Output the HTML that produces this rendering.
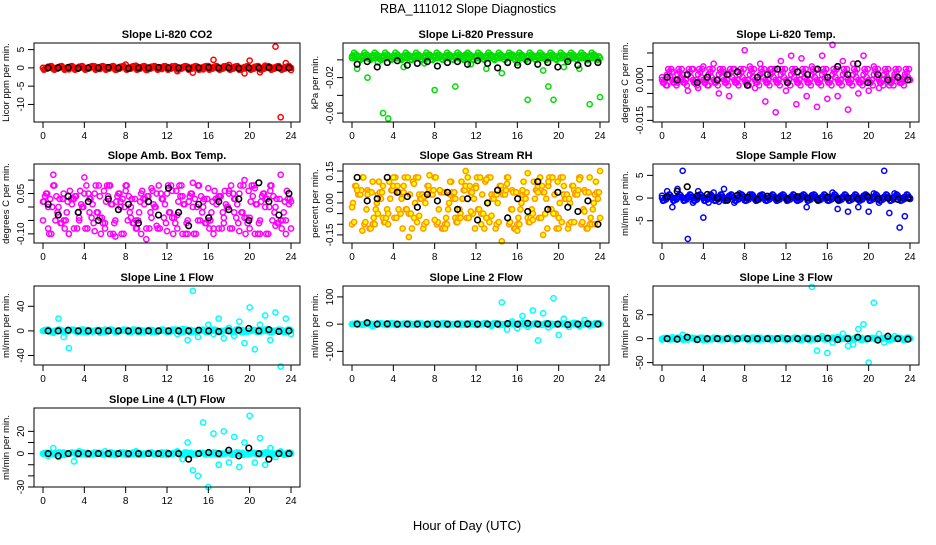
<!DOCTYPE html>
<html><head><meta charset="utf-8"><style>
body{margin:0;background:#fff}
svg{font-family:"Liberation Sans",sans-serif}
</style></head><body>
<svg id="c" width="936" height="540" xmlns="http://www.w3.org/2000/svg">
<text x="468" y="13" text-anchor="middle" font-size="12.5">RBA_111012  Slope Diagnostics</text>
<text x="467" y="530" text-anchor="middle" font-size="13">Hour of Day (UTC)</text>
</svg>
<script>
const xTicks=[0,4,8,12,16,20,24];
const titles=["Slope Li-820 CO2","Slope Li-820 Pressure","Slope Li-820 Temp.","Slope Amb. Box Temp.","Slope Gas Stream RH","Slope Sample Flow","Slope Line 1 Flow","Slope Line 2 Flow","Slope Line 3 Flow","Slope Line 4 (LT) Flow"];
const yLabels=["Licor ppm per min.","kPa per min.","degrees C per min.","degrees C per min.","percent per min.","ml/min per min.","ml/min per min.","ml/min per min.","ml/min per min.","ml/min per min."];
const yRanges=[[-14.8,6.8],[-0.070,0.019],[-0.0156,0.0137],[-0.134,0.16],[-0.188,0.183],[-9.9,7.5],[-55.5,73],[-150,140],[-55,110],[-30,41]];
const yTicks=[[5,0,-5,-10],[0,-0.02,-0.04,-0.06],[0.010,0.005,0.000,-0.005,-0.010,-0.015],[0.10,0.05,0,-0.05,-0.10],[0.15,0.10,0.05,0.00,-0.05,-0.10,-0.15],[5,0,-5],[40,0,-40],[100,0,-100],[50,0,-50],[20,10,0,-10,-20,-30]];
const yTickLabels=[["5","0","-5","-10"],["","-0.02","","-0.06"],["","","0.000","","","-0.015"],["","0.05","","","-0.10"],["0.15","","","0.00","","","-0.15"],["5","0","-5"],["40","0","-40"],["100","0","-100"],["50","0","-50"],["20","","0","","","-30"]];
const colors=["#ff0000","#00dd00","#ff00ff","#ff00ff","#ff9900","#0000ff","#00ffff","#00ffff","#00ffff","#00ffff"];
// dense band values (cycled across the day)
const bandA=[
[0,0.3,-0.3,0.2,-0.2,0.4,-0.4,0.1,-0.1,0.5,-0.5,0],
[0.002,0.005,0.008,0.003,0.006,0.001,0.009,0.004,0.007,0.0,0.005,0.003],
[0,0.001,-0.001,0.002,-0.002,0.003,-0.003,0.004,-0.004,0.001,-0.001,0],
[-0.05,0.03,-0.02,0.06,-0.08,0.01,0.05,-0.04,0.08,-0.06,0.02,-0.1,0.04,0],
[-0.1,0.05,-0.03,0.1,-0.07,0.02,0.08,-0.05,0.12,-0.12,0,0.04,-0.09,0.06],
[0,0.5,-0.5,0.3,-0.3,0.8,-0.8,0.2,-0.2,0.6,-0.6,0],
[0,1,-1,2,-2,0,1.5,-1.5,0.5,-0.5],
[0,2,-2,3,-3,0,1,-1,2,-1],
[0,1,-1,2,-2,0,1.5,-1.5,0.5,-0.5],
[0,0.5,-0.5,1,-1,0,0.7,-0.7,0.3,-0.3]
];
// scattered colored samples (index spans 0..24 h)
const colA=[
[0,0.3,-0.3,0.2,0,-0.4,0.1,0.3,-0.2,0,0.4,-0.3,0.2,0.1,-0.5,0.3,0.9,-0.2,0.6,0,-0.6,0.3,0.1,-0.3,0.2,0.4,-0.9,0,0.3,-1.3,0.2,-0.4,0.5,2.2,-0.3,0.4,0.8,0.2,-0.5,-1.5,2,0.3,-1.2,0.6,0.2,5.8,-13.5,1.3,-0.6],
[0.004,-0.01,0.003,-0.02,0.005,-0.003,-0.06,-0.066,0.004,0.002,-0.008,0.005,0.003,0.004,-0.004,0.006,-0.034,0.004,0.003,0.005,-0.03,0.002,0.006,-0.005,0.004,0.003,-0.01,0.005,0.002,-0.015,0.004,0.006,-0.003,0.005,-0.045,0.003,0.005,-0.012,-0.03,-0.045,0.004,-0.008,0.005,0.003,-0.01,0.004,-0.05,0.005,-0.042],
[0.001,-0.002,0.003,-0.001,0.002,-0.004,0.004,-0.003,0.005,-0.002,0.006,-0.005,0.003,-0.006,0.004,0.002,0.011,0.005,-0.003,0.006,-0.008,0.004,-0.012,0.007,-0.004,0.009,-0.009,0.008,-0.006,0.005,-0.01,0.009,-0.007,0.013,-0.006,0.007,-0.011,0.006,-0.005,0.009,-0.004,0.005,-0.003,0.002,-0.002,0.001,-0.001,0.001,0],
[0.02,-0.08,0.12,-0.03,0.05,-0.1,0.03,-0.05,0.11,-0.02,-0.09,0.04,-0.06,0.08,-0.11,0.02,0.06,-0.04,-0.08,0.05,-0.12,0.07,-0.07,0.03,-0.09,0.06,-0.03,0.04,-0.1,0.09,-0.05,0.02,0.07,-0.08,0.04,-0.06,0.06,-0.02,-0.09,0.1,-0.04,0.07,-0.1,0.03,0.06,-0.07,0.12,-0.05,0.02],
[-0.02,0.06,-0.13,0.04,0.1,-0.05,0.08,-0.1,0.12,-0.03,0.05,-0.16,0.09,-0.06,0.03,0.13,-0.08,0.06,-0.12,0.1,0.02,-0.07,0.15,-0.04,0.07,-0.1,0.11,-0.06,0.04,-0.18,0.09,-0.03,-0.13,0.06,0.14,-0.08,0.05,-0.15,0.1,-0.05,-0.12,0.08,0.02,-0.09,0.11,-0.04,0.12,-0.1,0.15],
[0.5,1.5,-2,2,6,-9,-1,1.5,-4.3,-1,1.2,-0.8,2,0.5,-1,1,-0.5,0.8,-0.3,0.6,-0.5,0.4,-0.3,0.5,-0.2,0.3,-0.4,0.5,-2,0.6,-0.3,0.2,-0.5,1.2,-2.4,0.3,-3,0.2,-2,0.5,-3,1,-1,6,-3.3,1,-6.5,-4,-0.2],
[0,2,-3,20,-10,-28,1,0,-2,1,0,-3,2,0,-1,1,0,-2,0,1,0,-2,0,1,0,2,-5,3,-15,65,-10,2,10,-5,20,-12,5,-8,15,-20,38,-30,10,25,-15,30,-58,20,-5],
[0,2,-2,5,-8,3,0,-3,1,0,2,-1,0,1,-2,0,1,0,-2,1,0,-3,2,0,1,-1,4,-6,2,80,-20,10,-15,30,-10,50,-60,40,-12,95,-40,20,-10,5,-8,15,-5,3,0],
[-2,0,3,-1,8,-2,0,1,-3,0,2,-1,0,1,-2,0,1,0,-1,2,0,-2,1,0,1,-1,0,-3,2,108,-25,5,-30,-8,3,10,-15,-12,20,30,-50,75,10,-8,-3,5,0,-2,0],
[0,-2,5,-3,1,0,-7,2,0,-1,1,0,2,-1,0,1,-1,0,2,-1,0,1,0,-1,1,0,2,-5,10,-15,-20,28,-30,18,-10,20,-8,15,-12,10,34,-8,14,-10,5,-3,2,0,0]
];
const blkA=[
[0,0,0.1,-0.1,0,0,0.1,0,-0.1,0,0,0.1,0,0,-0.1,0,0.1,0,0,-0.1,0,0,0.1,0,0],
[-0.005,-0.002,-0.008,-0.003,-0.001,-0.006,-0.004,-0.002,-0.007,-0.003,-0.002,-0.005,-0.001,-0.004,-0.009,-0.003,-0.006,-0.002,-0.005,-0.003,-0.008,-0.002,-0.006,-0.004,-0.003],
[0.001,0,0.002,-0.001,0.001,0,0.002,0.003,-0.002,0.001,0.002,0.004,-0.001,0.003,0.002,0.004,0.001,0.005,0.002,0.006,-0.001,0.002,0,0.001,0],
[0.01,-0.03,0.04,-0.02,0.02,-0.05,0.03,-0.01,0.01,-0.06,0.02,-0.03,0.07,-0.02,-0.07,0.01,-0.04,0.02,-0.01,0.03,-0.05,0.09,0.02,-0.03,0.05],
[0.12,0.01,0.02,0.12,0.05,0.03,-0.02,0.04,0.01,0.05,-0.03,0.02,-0.08,0,0.06,-0.07,0.02,-0.04,0.1,-0.03,0.05,-0.02,-0.04,0.01,-0.1],
[0.3,1.5,2.5,0.5,0.8,0,-0.5,0.6,0.2,-0.3,0.4,0,-0.2,0.3,0,-0.4,0.2,-0.3,0,-0.2,0.3,-0.2,0,-0.3,0],
[0,0,1,0,0,0,0,0,0,0,0,0,0,0,0,1,0,-1,0,1,4,0,2,-1,0],
[0,5,0,1,0,0,0,0,0,0,0,0,0,0,0,2,0,3,0,1,0,-2,0,1,0],
[0,-1,3,-2,0,0,0,0,0,0,0,0,0,0,0,0,1,-2,0,3,0,-3,5,0,-1],
[0,-2,0,0,0,0,0,0,0,0,0,0,0,0,-5,0,1,0,3,-2,5,0,-5,0,0]
];
const svg=document.getElementById('c');
const NS="http://www.w3.org/2000/svg";
function mk(t,a,p){const e=document.createElementNS(NS,t);for(const k in a)e.setAttribute(k,a[k]);(p||svg).appendChild(e);return e;}
const colX=[34,343,653], rowY=[43,164,286,408], W=266, H=79;
for(let p=0;p<10;p++){
  const bx=colX[p%3], by=rowY[Math.floor(p/3)];
  const g=mk('g',{});
  
  
  const xs=h=>bx+9+h*(W-18)/24;
  const [y0,y1]=yRanges[p];
  const ys=v=>by+H-(v-y0)/(y1-y0)*H;
  const t=mk('text',{x:bx+W/2,y:by-5,'text-anchor':'middle','font-size':'11','font-weight':'bold'},g);t.textContent=titles[p];
  
  
  const fill=p==4?'#ffff00':'none';
  const ba0=bandA[p],bl=ba0.length;
  for(let j=0;j<=240;j++){const v=ba0[(j*j*3+j*7+Math.floor(j/5))%bl];
    const c=mk('circle',{cx:xs(j*0.1),cy:ys(v),r:2.6,fill:fill,stroke:colors[p],'stroke-width':1.5},g);
    
    }
  const ca=colA[p],n=ca.length;
  ca.forEach((v,i)=>{const h=i*24/(n-1);
    const c=mk('circle',{cx:xs(h),cy:ys(v),r:2.6,fill:fill,stroke:colors[p],'stroke-width':1.5},g);
    
    });
  const ba=blkA[p],m=ba.length;
  ba.forEach((v,i)=>{const h=0.5+i*23.3/(m-1);
    const c=mk('circle',{cx:xs(h),cy:ys(v),r:2.8,fill:'none',stroke:'#000','stroke-width':1.6},g);
    
    });
  mk('rect',{x:bx,y:by,width:W,height:H,fill:'none',stroke:'#000','stroke-width':1},g);
  xTicks.forEach(v=>{mk('line',{x1:xs(v),x2:xs(v),y1:by+H,y2:by+H+6,stroke:'#000'},g);
    const l=mk('text',{x:xs(v),y:by+H+17,'text-anchor':'middle','font-size':'10'},g);l.textContent=v;
    
    });
  yTicks[p].forEach((v,i)=>{const y=ys(v);mk('line',{x1:bx-6,x2:bx,y1:y,y2:y,stroke:'#000'},g);
    const l=mk('text',{x:bx-10,y:y,'text-anchor':'middle','font-size':'10',transform:`rotate(-90 ${bx-10} ${y})`},g);l.textContent=yTickLabels[p][i];
    
    });
  const yl=mk('text',{x:bx-25,y:by+H/2,'text-anchor':'middle','font-size':'9.5',transform:`rotate(-90 ${bx-25} ${by+H/2})`},g);yl.textContent=yLabels[p];
  
  
}
</script>
</body></html>
